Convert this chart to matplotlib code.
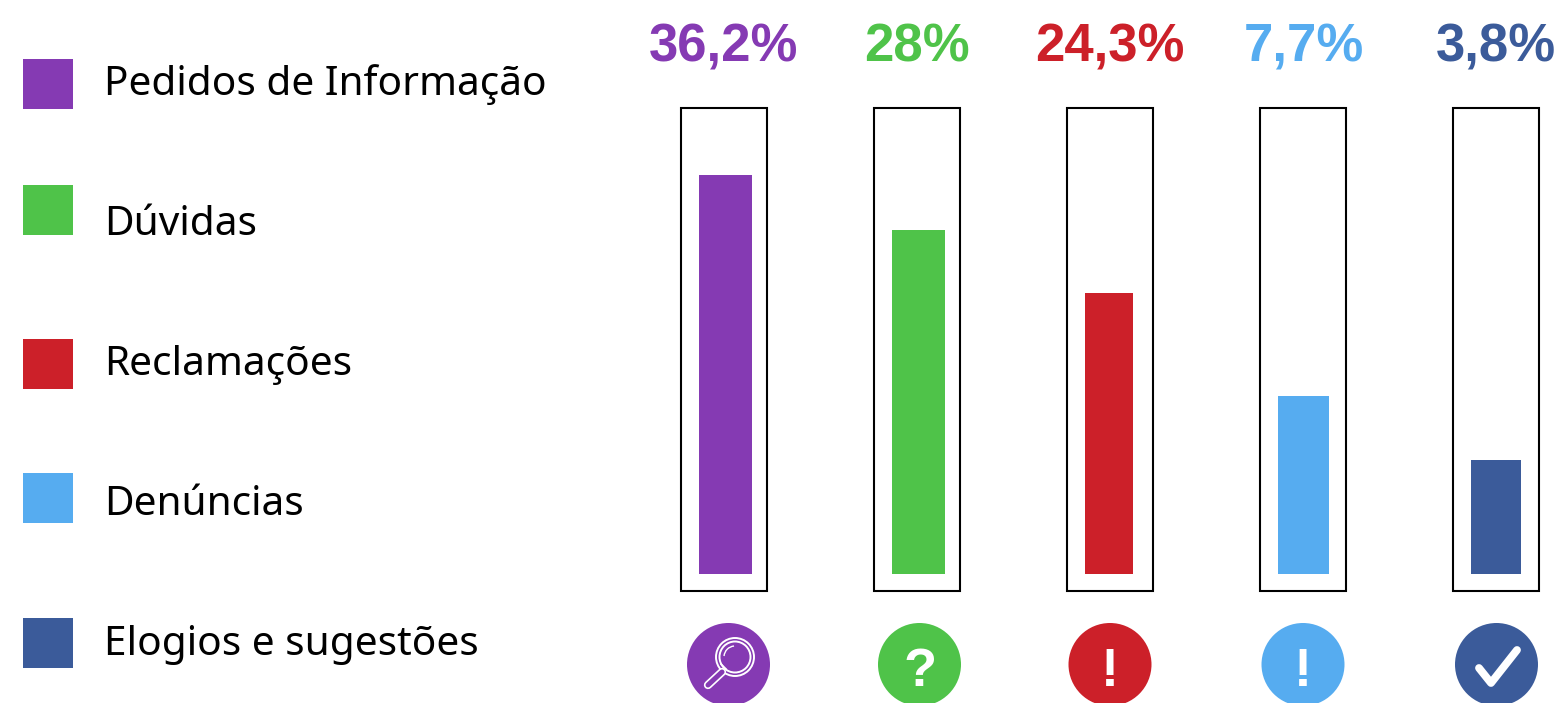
import numpy as np
import matplotlib
matplotlib.use("Agg")
import matplotlib.pyplot as plt
from matplotlib.patches import Circle, Rectangle, Arc

# Data
categories = ["Pedidos de Informação", "Dúvidas", "Reclamações", "Denúncias", "Elogios e sugestões"]
shares = [36.2, 28.0, 24.3, 7.7, 3.8]
share_labels = ["36,2%", "28%", "24,3%", "7,7%", "3,8%"]
colors = ["#853AB3", "#4FC349", "#CC2029", "#56ACF0", "#3B5B9A"]

# Fill level is not proportional to the share: this is the gauge's own scale
scale_values = [-5.0, 0.0, 3.8, 7.7, 24.3, 28.0, 36.2, 45.0]
scale_levels = [-17, 0, 114, 178, 281, 344, 399, 466]
y_min, y_max = -5.0, 45.0

W, H = 1563, 703
fig = plt.figure(figsize=(W / 100, H / 100), dpi=100, facecolor="white")


def px_axes(x0, y0, x1, y1):
    return fig.add_axes([x0 / W, 1 - y1 / H, (x1 - x0) / W, (y1 - y0) / H])


# Gauges
ax = px_axes(681, 108, 1539, 591)
ax.set_yscale("function", functions=(
    lambda v: np.interp(v, scale_values, scale_levels),
    lambda h: np.interp(h, scale_levels, scale_values),
))
step = 193.0
x = np.arange(len(shares))
ax.set_xlim(-43 / step, x[-1] + 43 / step)
ax.set_ylim(y_min, y_max)
ax.axis("off")
fill_widths = [53, 53, 48, 51, 50]
fill_shift = [1.5, 1.5, -1, 0.5, 0]
tube_width = 86 / step
ax.bar(x, [y_max - y_min] * 5, bottom=y_min, width=tube_width, facecolor="none",
       edgecolor="black", linewidth=1.5, clip_on=False, zorder=3)
ax.bar(x + np.array(fill_shift) / step, shares, width=np.array(fill_widths) / step,
       color=colors, linewidth=0, zorder=2)

# Overlay in pixel units for legend, value labels and round badges
ov = px_axes(0, 0, W, H)
ov.set_xlim(0, W)
ov.set_ylim(H, 0)
ov.axis("off")
ov.patch.set_alpha(0)

legend_tops = [59, 185, 339, 473, 618]
legend_baselines = [95, 235, 375, 515, 655]
for name, col, top, base in zip(categories, colors, legend_tops, legend_baselines):
    ov.add_patch(Rectangle((23, top), 50, 50, facecolor=col, edgecolor="none"))
    ov.text(104.5, base, name, fontsize=29.2, family="Noto Sans", color="black",
            ha="left", va="baseline")

label_centers = [724, 917, 1110, 1304, 1496]
for lab, col, cx in zip(share_labels, colors, label_centers):
    ov.text(cx, 62, lab, fontsize=38, family="Liberation Sans", weight="bold",
            color=col, ha="center", va="baseline")

badge_x = [728.5, 919.5, 1110, 1303, 1496.5]
badge_y = 664.5
for col, cx in zip(colors, badge_x):
    ov.add_patch(Circle((cx, badge_y), 41.5, facecolor=col, edgecolor="none"))

# Magnifying glass
white = "white"
ov.add_patch(Circle((735, 657), 19, fill=False, edgecolor=white, linewidth=1.4))
ov.add_patch(Circle((735, 657), 15.5, fill=False, edgecolor=white, linewidth=1.4))
ov.add_patch(Arc((735, 657), 22, 22, theta1=185, theta2=265, edgecolor=white, linewidth=1.0))
ov.plot([722, 708], [672, 685], color=white, lw=6, solid_capstyle="round")
ov.plot([722, 708], [672, 685], color=colors[0], lw=3.6, solid_capstyle="round")
ov.plot([721, 726], [664, 669], color=white, lw=1.2)

# Question and exclamation marks
glyph_x = [920, 1110, 1303]
for glyph, cx in zip(["?", "!", "!"], glyph_x):
    ov.text(cx, 686, glyph, fontsize=39, family="Liberation Sans", weight="bold",
            color=white, ha="center", va="baseline")

# Check mark
ov.plot([1479, 1491, 1517], [668, 683, 650], color=white, lw=5.6,
        solid_capstyle="round", solid_joinstyle="round")

fig.savefig("out.png", dpi=100, facecolor="white")
